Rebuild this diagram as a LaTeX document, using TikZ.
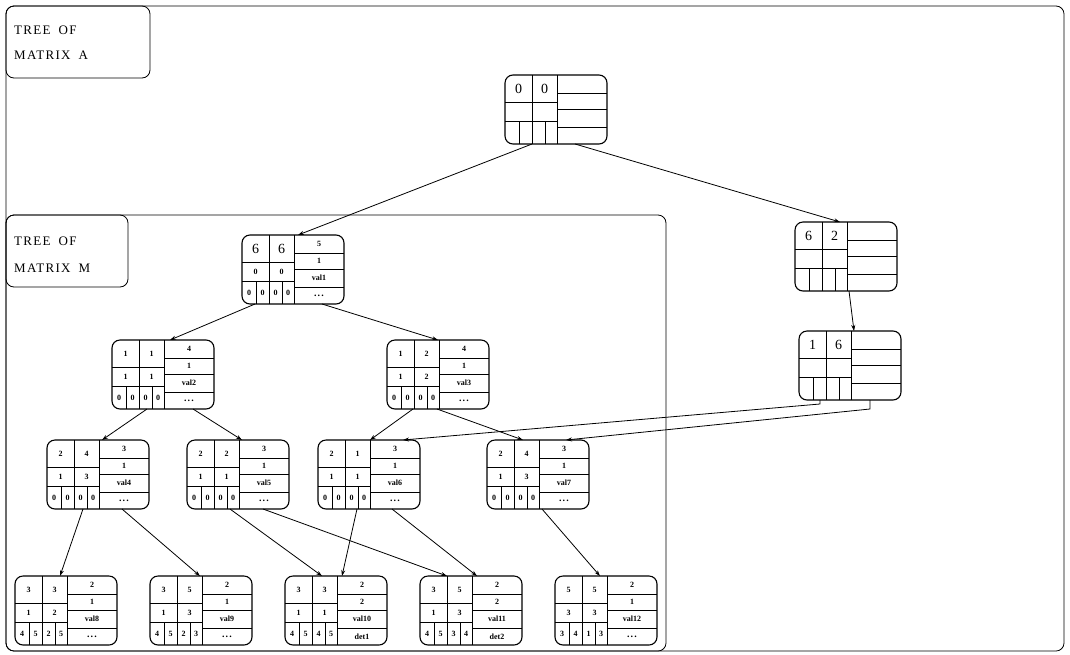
\documentclass[tikz,border=0pt]{standalone}
\usepackage{fontspec}
\setmainfont{Liberation Serif}
\newfontfamily\lblfont[LetterSpace=10]{Liberation Serif}
\usetikzlibrary{calc,arrows.meta}
\tikzset{
 recbox/.style={draw, line width=1.1pt, rounded corners=8pt, minimum width=102pt, minimum height=69pt, anchor=north west, inner sep=0pt, outer sep=0pt},
 gridline/.style={line width=0.9pt},
 smalltxt/.style={font=\fontsize{8}{9}\selectfont\bfseries, inner sep=0pt},
 bigd/.style={font=\fontsize{14}{16}\selectfont, inner sep=0pt},
 arr/.style={line width=0.8pt, -{Stealth[length=6pt,width=4pt]}},
 framebox/.style={draw, line width=0.8pt, rounded corners=8pt},
 lbl/.style={font=\fontsize{13}{15}\lblfont, anchor=west, inner sep=0pt}
}
\newcommand\dts{{\fontsize{10}{10}\selectfont\bfseries .\kern1.2pt.\kern1.2pt.}}
% node with its grid
\newcommand\recnode[3]{%
 \node[recbox] (#1) at (#2,#3) {};
 \begin{scope}[shift={(#1.north west)}, gridline]
  \draw (27,0) -- (27,69);
  \draw (52,0) -- (52,69);
  \draw (0,27) -- (52,27);
  \draw (0,46) -- (52,46);
  \draw (14,46) -- (14,69);
  \draw (40,46) -- (40,69);
  \draw (52,18) -- (102,18);
  \draw (52,34) -- (102,34);
  \draw (52,52) -- (102,52);
 \end{scope}}
\newcommand\leftvals[6]{%
 \begin{scope}[shift={(#1.north west)}]
  \node[#2] (#1-a) at (13.5,13.5) {#3};
  \node[#2] (#1-b) at (39.5,13.5) {#4};
  \node[smalltxt] (#1-c) at (13.5,36.5) {#5};
  \node[smalltxt] (#1-d) at (39.5,36.5) {#6};
 \end{scope}}
\newcommand\rightvals[5]{%
 \begin{scope}[shift={(#1.north west)}]
  \node[smalltxt] (#1-r1) at (77,9) {#2};
  \node[smalltxt] (#1-r2) at (77,26) {#3};
  \node[smalltxt] (#1-r3) at (77,43) {#4};
  \node[smalltxt] (#1-r4) at (77,60.5) {#5};
 \end{scope}}
\newcommand\botvals[5]{%
 \begin{scope}[shift={(#1.north west)}]
  \node[smalltxt] (#1-b1) at (7,57.5) {#2};
  \node[smalltxt] (#1-b2) at (20.5,57.5) {#3};
  \node[smalltxt] (#1-b3) at (33.5,57.5) {#4};
  \node[smalltxt] (#1-b4) at (46,57.5) {#5};
 \end{scope}}
\begin{document}
\begin{tikzpicture}[x=1pt,y=-1pt]
\useasboundingbox (0,0) rectangle (1070,654);
% frames
\draw[framebox] (6,6) rectangle (1064,651);
\draw[framebox] (6,6) rectangle (150,78);
\draw[framebox] (6,215) rectangle (666,651);
\draw[framebox] (6,215) rectangle (128,287);
\node[lbl] (tA1) at (14,30) {TREE\hspace{8pt}OF};
\node[lbl] (tA2) at (14,55) {MATRIX\hspace{8pt}A};
\node[lbl] (tM1) at (14,241) {TREE\hspace{8pt}OF};
\node[lbl] (tM2) at (14,268) {MATRIX\hspace{8pt}M};
% big nodes
\recnode{root}{505}{75}
\leftvals{root}{bigd}{0}{0}{}{}
\recnode{nsixtwo}{795}{222}
\leftvals{nsixtwo}{bigd}{6}{2}{}{}
\recnode{nonesix}{799}{331}
\leftvals{nonesix}{bigd}{1}{6}{}{}
% tree of M
\recnode{vone}{242}{235}
\leftvals{vone}{bigd}{6}{6}{0}{0}
\rightvals{vone}{5}{1}{val1}{\dts}
\botvals{vone}{0}{0}{0}{0}
\recnode{vtwo}{112}{340}
\leftvals{vtwo}{smalltxt}{1}{1}{1}{1}
\rightvals{vtwo}{4}{1}{val2}{\dts}
\botvals{vtwo}{0}{0}{0}{0}
\recnode{vthree}{387}{340}
\leftvals{vthree}{smalltxt}{1}{2}{1}{2}
\rightvals{vthree}{4}{1}{val3}{\dts}
\botvals{vthree}{0}{0}{0}{0}
\recnode{vfour}{47}{440}
\leftvals{vfour}{smalltxt}{2}{4}{1}{3}
\rightvals{vfour}{3}{1}{val4}{\dts}
\botvals{vfour}{0}{0}{0}{0}
\recnode{vfive}{187}{440}
\leftvals{vfive}{smalltxt}{2}{2}{1}{1}
\rightvals{vfive}{3}{1}{val5}{\dts}
\botvals{vfive}{0}{0}{0}{0}
\recnode{vsix}{318}{440}
\leftvals{vsix}{smalltxt}{2}{1}{1}{1}
\rightvals{vsix}{3}{1}{val6}{\dts}
\botvals{vsix}{0}{0}{0}{0}
\recnode{vseven}{487}{440}
\leftvals{vseven}{smalltxt}{2}{4}{1}{3}
\rightvals{vseven}{3}{1}{val7}{\dts}
\botvals{vseven}{0}{0}{0}{0}
\recnode{veight}{15}{576}
\leftvals{veight}{smalltxt}{3}{3}{1}{2}
\rightvals{veight}{2}{1}{val8}{\dts}
\botvals{veight}{4}{5}{2}{5}
\recnode{vnine}{150}{576}
\leftvals{vnine}{smalltxt}{3}{5}{1}{3}
\rightvals{vnine}{2}{1}{val9}{\dts}
\botvals{vnine}{4}{5}{2}{3}
\recnode{vten}{285}{576}
\leftvals{vten}{smalltxt}{3}{3}{1}{1}
\rightvals{vten}{2}{2}{val10}{det1}
\botvals{vten}{4}{5}{4}{5}
\recnode{veleven}{420}{576}
\leftvals{veleven}{smalltxt}{3}{5}{1}{3}
\rightvals{veleven}{2}{2}{val11}{det2}
\botvals{veleven}{4}{5}{3}{4}
\recnode{vtwelve}{555}{576}
\leftvals{vtwelve}{smalltxt}{5}{5}{3}{3}
\rightvals{vtwelve}{2}{1}{val12}{\dts}
\botvals{vtwelve}{3}{4}{1}{3}
% connectors
\draw[arr] ($(root.south west)+(27,0)$) -- ($(vone.north west)+(56,0)$);
\draw[arr] ($(root.south west)+(70,0)$) -- ($(nsixtwo.north west)+(45,0)$);
\draw[arr] ($(nsixtwo.south west)+(54,0)$) -- ($(nonesix.north west)+(55,0)$);
\draw[arr] ($(nonesix.south west)+(21,0)$) -- ++(0,4) -- ($(vsix.north west)+(85,0)$);
\draw[arr] ($(nonesix.south west)+(71,0)$) -- ++(0,9) -- ($(vseven.north west)+(79,0)$);
\draw[arr] ($(vone.south west)+(13,0)$) -- ($(vtwo.north west)+(58,0)$);
\draw[arr] ($(vone.south west)+(80,0)$) -- ($(vthree.north west)+(51,0)$);
\draw[arr] ($(vtwo.south west)+(35,0)$) -- ($(vfour.north west)+(55,0)$);
\draw[arr] ($(vtwo.south west)+(81,0)$) -- ($(vfive.north west)+(55,0)$);
\draw[arr] ($(vthree.south west)+(26,0)$) -- ($(vsix.north west)+(52,0)$);
\draw[arr] ($(vthree.south west)+(50,0)$) -- ($(vseven.north west)+(36,0)$);
\draw[arr] ($(vfour.south west)+(36,0)$) -- ($(veight.north west)+(45,0)$);
\draw[arr] ($(vfour.south west)+(75,0)$) -- ($(vnine.north west)+(50,0)$);
\draw[arr] ($(vfive.south west)+(43,0)$) -- ($(vten.north west)+(37,0)$);
\draw[arr] ($(vfive.south west)+(76,0)$) -- ($(veleven.north west)+(27,0)$);
\draw[arr] ($(vsix.south west)+(39,0)$) -- ($(vten.north west)+(57,0)$);
\draw[arr] ($(vsix.south west)+(74,0)$) -- ($(veleven.north west)+(57,0)$);
\draw[arr] ($(vseven.south west)+(55,0)$) -- ($(vtwelve.north west)+(45,0)$);
\end{tikzpicture}
\end{document}
